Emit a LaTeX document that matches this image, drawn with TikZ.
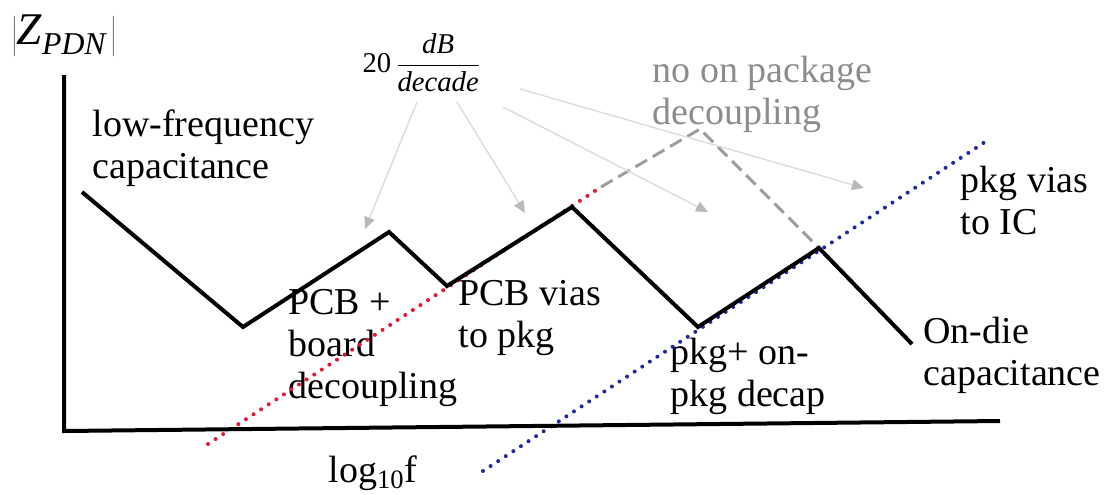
\documentclass[tikz,border=0pt]{standalone}
\usepackage{fontspec}
\setmainfont{Liberation Serif}
\usetikzlibrary{arrows.meta}

\definecolor{pdnred}{RGB}{232,20,50}
\definecolor{pdnblue}{RGB}{30,40,160}
\definecolor{hintgray}{RGB}{140,140,140}
\definecolor{arrowgray}{RGB}{218,218,218}
\definecolor{tipgray}{RGB}{185,185,185}

\tikzset{every picture/.style={line width=0.75pt}}

\begin{document}
\begin{tikzpicture}[x=0.75pt,y=0.75pt,yscale=-1,xscale=1,
	lbl/.style={anchor=north west, inner sep=0pt, align=left, font=\fontsize{28.5}{31.5}\selectfont},
	slopearrow/.style={draw=arrowgray, line width=1pt, -{Triangle[length=9pt,width=8pt,color=tipgray]}},
	dotted line/.style={line width=3pt, line cap=round, dash pattern=on 0pt off 6.8pt}]
	\useasboundingbox (0,0) rectangle (1111,494);

	%Corners of the impedance curve
	\coordinate (lfc) at (82,192);
	\coordinate (v1) at (243,327);
	\coordinate (p1) at (389,232);
	\coordinate (v2) at (447,286);
	\coordinate (p2) at (572,207);
	\coordinate (v3) at (698,327);
	\coordinate (p3) at (819,248);
	\coordinate (odc) at (912,344);

	% Text Node
	\node [lbl] (lowf) at (92,109) {low-frequency\\capacitance};
	% Text Node
	\node [lbl] (pcb) at (288,289) {PCB +\\board\\decoupling};
	% Text Node
	\node [lbl] (pcbvias) at (458,280) {PCB vias\\to pkg};
	% Text Node
	\node [lbl] (pkgdecap) at (670,338) {pkg+ on-\\pkg decap};
	% Text Node
	\node [lbl] (pkgvias) at (960,166) {pkg vias\\to IC};
	% Text Node
	\node [lbl] (ondie) at (923,317) {On-die\\capacitance};
	% Text Node
	\node [lbl, text=hintgray] (nopkg) at (652,56) {no on package\\decoupling};
	% Text Node
	\node [lbl] (xlabel) at (328,455) {log\textsubscript{10}f};
	% Text Node
	\node [anchor=west, inner sep=0pt, font=\fontsize{34}{40}\selectfont] (ylabel) at (12,36) {$\left|\mathit{Z}_{\mathit{PDN}}\,\right|$};
	% Text Node
	\node [anchor=west, inner sep=0pt, font=\fontsize{21.5}{26}\selectfont] (slope) at (362,63) {20\,$\displaystyle\frac{\mathit{dB}}{\mathit{decade}}$};

	%Straight Lines (red dotted asymptote)
	\coordinate (redlo) at (208,444);
	\coordinate (redhi) at (601,187);
	\draw [dotted line, pdnred] (redlo) -- (redhi);
	%Straight Lines (blue dotted asymptote)
	\coordinate (bluelo) at (483,471);
	\coordinate (bluehi) at (988,140);
	\draw [dotted line, pdnblue] (bluelo) -- (bluehi);
	%Straight Lines (gray dashed, no package decoupling)
	\coordinate (nopeak) at (700,129);
	\draw [hintgray!85, line width=2.2pt, dash pattern=on 10pt off 5pt] (redhi) -- (nopeak) -- (p3);

	%Straight Lines (axes)
	\draw [line width=3pt] (64,75) -- (64,431) -- (1000,421);
	%Straight Lines (impedance profile)
	\draw [line width=3pt, line join=miter] (lfc) -- (v1) -- (p1) -- (v2) -- (p2) -- (v3) -- (p3) -- (odc);

	%Straight Lines (slope arrows)
	\coordinate (sa) at (417,102);
	\coordinate (sb) at (457,102);
	\coordinate (sc) at (503,107);
	\coordinate (sd) at (520,89);
	\coordinate (ta) at (365,229);
	\coordinate (tb) at (525,213);
	\coordinate (tc) at (708,212);
	\coordinate (td) at (864,188);
	\draw [slopearrow] (sa) -- (ta);
	\draw [slopearrow] (sb) -- (tb);
	\draw [slopearrow] (sc) -- (tc);
	\draw [slopearrow] (sd) -- (td);

\end{tikzpicture}
\end{document}
